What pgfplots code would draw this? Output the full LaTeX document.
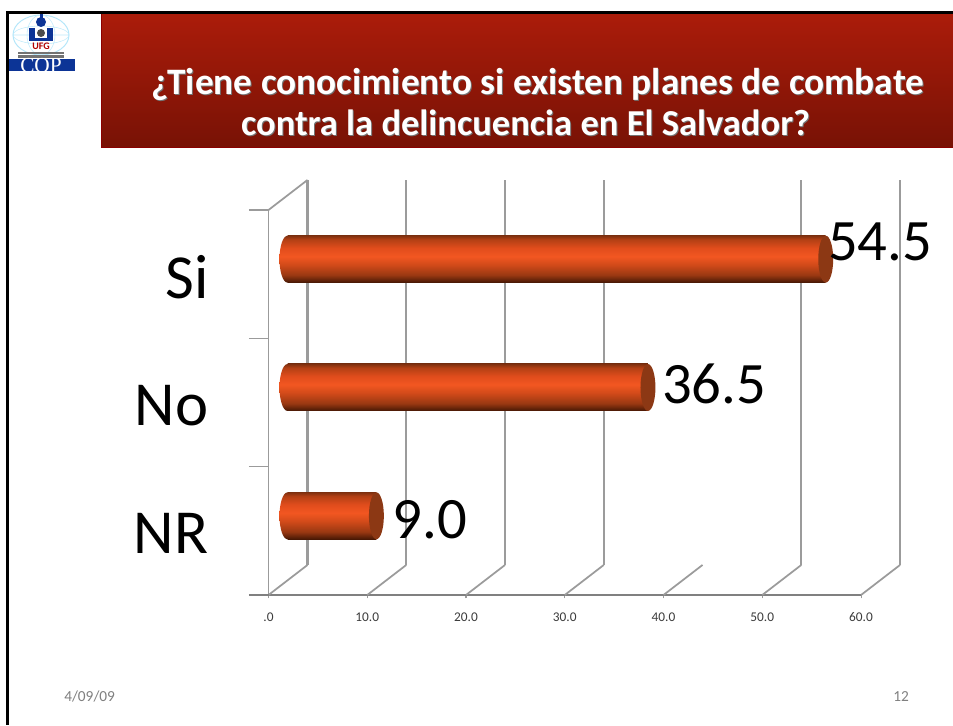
\documentclass[border=0pt]{standalone}
\usepackage{pgfplots}
\pgfplotsset{compat=1.18}
\usepackage{fontspec}
\setmainfont{Carlito}
\newfontfamily\liberserif{Liberation Serif}
\usetikzlibrary{shadings}
\definecolor{gridc}{RGB}{155,155,155}
\definecolor{ticklab}{RGB}{60,60,60}
\definecolor{capc}{RGB}{140,56,20}
\definecolor{logoblue}{RGB}{12,52,150}
\pgfdeclareverticalshading{barshade}{100bp}{
 rgb(0bp)=(0.27,0.09,0.015);
 rgb(25bp)=(0.27,0.09,0.015);
 rgb(33bp)=(0.60,0.22,0.07);
 rgb(44bp)=(0.82,0.29,0.10);
 rgb(53bp)=(0.95,0.34,0.13);
 rgb(62bp)=(0.88,0.30,0.11);
 rgb(71bp)=(0.70,0.25,0.08);
 rgb(75bp)=(0.50,0.19,0.06);
 rgb(100bp)=(0.50,0.19,0.06)}
\pgfdeclareverticalshading{banner}{100bp}{
 rgb(0bp)=(0.47,0.07,0.02);
 rgb(25bp)=(0.47,0.07,0.02);
 rgb(75bp)=(0.67,0.11,0.04);
 rgb(100bp)=(0.67,0.11,0.04)}
\pgfdeclareplotmark{capL}{\path[shading=barshade,draw=none] (0,0) ellipse [x radius=6pt,y radius=17.6pt];}
\pgfdeclareplotmark{capR}{\path[fill=capc,draw=none] (0,0) ellipse [x radius=5.6pt,y radius=17.6pt];}
\pgfplotstableread{
val cat
54.5 2.5
36.5 1.5
9.0 0.5
}\bars
\begin{document}
\begin{tikzpicture}
\useasboundingbox (0,0) rectangle (714.75pt,543.75pt);
\begin{scope}[shift={(0,543.75pt)},x=.75pt,y=-.75pt]
 \fill[white] (0,0) rectangle (953,725);
 \path[shading=banner] (101,14) rectangle (953,147);
 \draw[red!55!black,line width=.6pt] (101,147) -- (101,14) (101,147) -- (953,147);
 \fill[black] (6,11) rectangle (953,14);
 \fill[black] (6,11) rectangle (9,725);
 % logo
 \draw[cyan!30!white,line width=.7pt] (41,35) ellipse (28 and 20);
 \draw[cyan!25!white,line width=.4pt] (41,35) ellipse (14 and 20) (41,35) ellipse (28 and 9) (13,35) -- (69,35);
 \fill[logoblue] (29,28) rectangle (53,41);
 \fill[white] (35,28) rectangle (47,38);
 \fill[black!70] (41,33) circle (4);
 \fill[logoblue] (41,22) circle (5);
 \fill[logoblue] (39.5,14) rectangle (42.5,20);
 \node[font=\bfseries\fontsize{7.5pt}{8pt}\selectfont,text=red!70!black,inner sep=0] at (41,46) {UFG};
 \fill[black!55] (18,52) rectangle (64,54);
 \fill[black!55] (18,55) rectangle (64,58);
 \fill[logoblue] (9,59) rectangle (75,71);
 \begin{scope}
 \clip (9,58) rectangle (75,72);
 \node[font=\liberserif\fontsize{16pt}{16pt}\selectfont,text=white,inner sep=0] at (41,66) {COP};
 \end{scope}
 % title
 \foreach \dx/\col in {1/black!55,0/white}{
 \node[text=\col,font=\bfseries\fontsize{28pt}{31pt}\selectfont,inner sep=0,anchor=base] at (538+\dx,95+\dx) {¿Tiene conocimiento si existen planes de combate};
 \node[text=\col,font=\bfseries\fontsize{27.4pt}{31pt}\selectfont,inner sep=0,anchor=base] at (525.5+\dx,136+\dx) {contra la delincuencia en El Salvador?};
 }
 \node[text=gray,font=\fontsize{11.5pt}{11.5pt}\selectfont,anchor=west,inner sep=0] at (64,697) {4/09/09};
 \node[text=gray,font=\fontsize{11.5pt}{11.5pt}\selectfont,anchor=west,inner sep=0] at (893,697) {12};
\end{scope}
% grid and axes
\begin{axis}[
 at={(201.375pt,97.5pt)},anchor=south west,scale only axis,
 width=444.4pt,height=288.75pt,
 xmin=0,xmax=60,ymin=0,ymax=3,clip=false,
 axis x line=bottom,axis y line=left,
 axis line style={-,gridc,line width=.9pt},
 x axis line style={draw=gray,line width=1.5pt},
 xtick={0,10,...,60},
 xticklabels={.0,10.0,20.0,30.0,40.0,50.0,60.0},
 ytick={0.5,1.5,2.5},
 yticklabels={NR,No,Si},
 major tick length=2.5pt,
 xtick style={gridc,line width=.8pt},
 ytick style={draw=none},
 xticklabel style={font=\fontsize{10pt}{10pt}\selectfont,text=ticklab,yshift=-7pt,text height=7pt,text depth=0pt},
 yticklabel style={font=\fontsize{47pt}{47pt}\selectfont,anchor=east,xshift=-39pt,yshift=-2pt},
 tick align=outside,
]
\addplot[gridc,line width=1.8pt] coordinates {(3.95,0.234) (3.95,3.234)};
\addplot[gridc,line width=1.8pt] coordinates {(13.95,0.234) (13.95,3.234)};
\addplot[gridc,line width=1.8pt] coordinates {(23.95,0.234) (23.95,3.234)};
\addplot[gridc,line width=1.8pt] coordinates {(33.95,0.234) (33.95,3.234)};
\addplot[gridc,line width=1.8pt] coordinates {(53.95,0.234) (53.95,3.234)};
\addplot[gridc,line width=1.8pt] coordinates {(63.95,0.234) (63.95,3.234)};
\addplot[gridc,line width=1.3pt] coordinates {(0,0) (3.95,0.234)};
\addplot[gridc,line width=1.3pt] coordinates {(10,0) (13.95,0.234)};
\addplot[gridc,line width=1.3pt] coordinates {(20,0) (23.95,0.234)};
\addplot[gridc,line width=1.3pt] coordinates {(30,0) (33.95,0.234)};
\addplot[gridc,line width=1.3pt] coordinates {(40,0) (43.95,0.234)};
\addplot[gridc,line width=1.3pt] coordinates {(50,0) (53.95,0.234)};
\addplot[gridc,line width=1.3pt] coordinates {(60,0) (63.95,0.234)};
\addplot[gridc,line width=1.3pt] coordinates {(0,3) (3.95,3.234)};
\addplot[gridc,line width=.8pt] coordinates {(-2,1) (0,1)};
\addplot[gridc,line width=.8pt] coordinates {(-2,2) (0,2)};
\addplot[gridc,line width=.8pt] coordinates {(-2,3) (0,3)};
\addplot[gray,line width=1.2pt] coordinates {(-2,0) (0,0)};
\end{axis}
% bars, set back by the depth of the 3-D floor
\begin{axis}[
 at={(215.625pt,108.75pt)},anchor=south west,scale only axis,
 width=444.4pt,height=288.75pt,
 xmin=0,xmax=60,ymin=0,ymax=3,clip=false,hide axis,
]
\addplot[only marks,mark=capL] coordinates {(0,2.5) (0,1.5) (0,0.5)};
\addplot[xbar,bar width=35.25pt,bar shift=0pt,draw=none,shading=barshade] coordinates {(54.5,2.5)};
\addplot[xbar,bar width=35.25pt,bar shift=0pt,draw=none,shading=barshade] coordinates {(36.5,1.5)};
\addplot[xbar,bar width=35.25pt,bar shift=0pt,draw=none,shading=barshade] coordinates {(9.0,0.5)};
\addplot[only marks,mark=capR] table[x=val,y=cat] {\bars};
\addplot[only marks,mark=none,point meta=explicit symbolic,
 nodes near coords,
 nodes near coords style={font=\fontsize{44pt}{44pt}\selectfont,anchor=center,inner sep=0,text=black}]
 coordinates {
 (60.0,2.635) [54.5]
 (43.2,1.53) [36.5]
 (14.4,0.47) [9.0]
 };
\end{axis}
\end{tikzpicture}
\end{document}
